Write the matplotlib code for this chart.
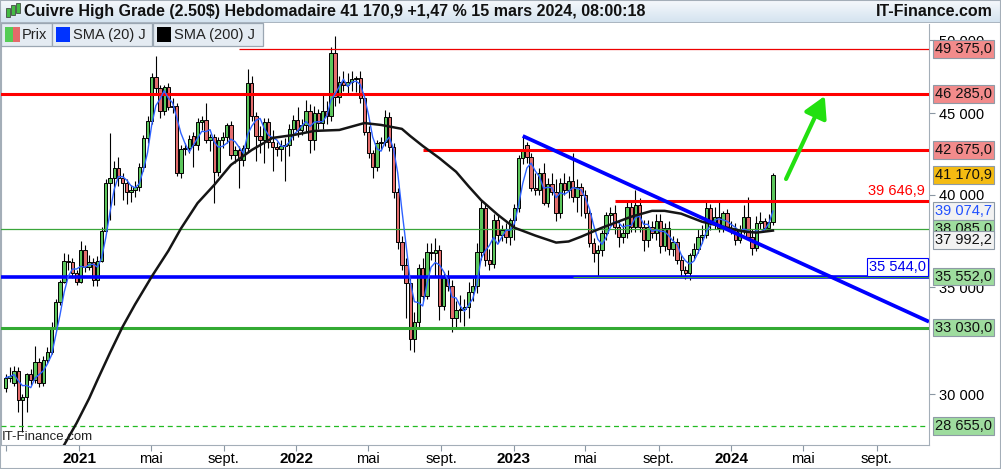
import matplotlib
matplotlib.use('Agg')
import matplotlib.pyplot as plt
import matplotlib.dates as mdates
from matplotlib.patches import Rectangle
from matplotlib.ticker import NullLocator
import numpy as np
import pandas as pd

plt.rcParams['font.family'] = ['Liberation Sans', 'DejaVu Sans']

# weekly candles, first week starting 31 Aug 2020
first_week = '2020-08-31'
opens = [30250, 30730, 30500, 31040, 29770, 29860, 30870, 30640, 31440, 30510,
         31530, 31890, 33060, 34260, 35300, 36380, 36330, 35760, 35300, 36960,
         36070, 36330, 35400, 36380, 37990, 40700, 41000, 41580, 41000, 40700,
         40180, 40290, 40470, 41640, 43430, 44500, 47420, 46670, 45150, 46740,
         45410, 45480, 41290, 42750, 42810, 43550, 42990, 44440, 44570, 43300,
         43490, 41340, 43300, 43490, 44250, 42370, 42670, 42060, 42810, 47000,
         44830, 43550, 43300, 44440, 43170, 42870, 42750, 42930, 43000, 43990,
         44570, 43930, 44250, 45150, 43300, 45020, 44370, 45150, 44830, 49090,
         46070, 47070, 46860, 47070, 47280, 47350, 46000, 43800, 42490, 41640,
         43110, 43170, 44760, 42870, 40180, 37390, 36170, 35200, 32490, 33290,
         35970, 34550, 36860, 36760, 36960, 34060, 35500, 35050, 33480, 33860,
         33910, 34010, 34750, 35050, 36860, 39260, 36430, 36200, 38590, 37770,
         38040, 37660, 38590, 39260, 42180, 43000, 42250, 40410, 40290, 41290,
         39550, 40640, 40180, 38980, 40700, 40290, 40820, 39890, 40470, 40010,
         38980, 37340, 36800, 36960, 37880, 38870, 38980, 38210, 37660, 37880,
         39320, 38210, 39430, 38210, 37500, 38210, 37880, 38540, 37180, 38150,
         37020, 37390, 36430, 35910, 35760, 36700, 37020, 37660, 37770, 39260,
         38430, 38760, 38150, 38980, 38150, 38040, 37500, 38040, 38760, 37660,
         37070, 38430, 38500, 38150, 38480]
highs = [30900, 31220, 31250, 31200, 30000, 30950, 31100, 32170, 31600, 31700,
         32100, 33300, 34400, 35400, 36800, 36750, 36500, 35900, 37400, 37200,
         36700, 36500, 36600, 38200, 40900, 43740, 42000, 42250, 41300, 40900,
         40600, 40800, 41900, 43600, 44800, 47700, 48880, 46900, 46900, 47000,
         46000, 45700, 43000, 43100, 43600, 43800, 44700, 44800, 45700, 43700,
         43700, 43500, 43800, 44400, 44500, 42900, 42900, 43000, 47970, 47500,
         45100, 44200, 44700, 44700, 43900, 43200, 43300, 43400, 44300, 44900,
         45400, 44600, 45900, 45600, 45500, 45300, 46300, 45800, 49500, 50320,
         47500, 47800, 47700, 47800, 47500, 47800, 46200, 44200, 42700, 43300,
         43500, 45200, 45100, 43100, 40400, 37700, 36500, 35500, 33800, 36200,
         36500, 37300, 37300, 37600, 37200, 35800, 35900, 35400, 34300, 34600,
         34400, 35300, 35500, 37300, 39700, 39500, 37000, 38900, 38900, 38300,
         38400, 38700, 39500, 42400, 43550, 43200, 42500, 41300, 41600, 41900,
         41000, 41300, 40900, 41000, 41300, 41100, 42500, 40900, 40700, 40300,
         39200, 37600, 37200, 38000, 39000, 39300, 39400, 38500, 38400, 39700,
         39600, 40300, 39800, 38600, 38600, 38500, 38900, 38900, 38400, 38500,
         37700, 37600, 36700, 36100, 36800, 37300, 38100, 38300, 39600, 39500,
         39300, 39700, 39100, 39200, 38500, 38400, 38300, 39400, 39900, 38100,
         38800, 39000, 38700, 38900, 41290]
lows = [30100, 30550, 30350, 29220, 28400, 29260, 30400, 30500, 30300, 30350,
        31400, 31800, 32900, 34100, 35200, 35900, 35500, 35100, 35200, 35800,
        35900, 35050, 35050, 36300, 37900, 38590, 39400, 40500, 39700, 39450,
        39600, 39900, 40200, 41400, 43100, 44300, 46300, 44700, 44900, 45200,
        45000, 41100, 41000, 42400, 42500, 41640, 42700, 43900, 43100, 42600,
        39550, 41100, 42800, 43100, 42100, 41900, 40400, 41700, 42600, 44500,
        42000, 42500, 41900, 42800, 41400, 42300, 42000, 40800, 42300, 43300,
        43500, 43600, 43800, 42500, 42700, 44000, 44000, 44300, 44500, 45500,
        45700, 46500, 46300, 46500, 46400, 45700, 43600, 42200, 41000, 41400,
        42700, 42900, 42600, 39800, 37000, 35900, 33500, 31960, 31900, 33000,
        34300, 34400, 36400, 35600, 33400, 33900, 34800, 32800, 33000, 33300,
        33100, 33500, 34300, 34700, 36400, 36100, 35900, 36000, 37300, 37400,
        37300, 37200, 37500, 39000, 41800, 41900, 40200, 40000, 40000, 39400,
        39300, 40000, 38500, 38700, 40000, 39800, 39600, 39000, 38800, 38700,
        37100, 36300, 35600, 36600, 37500, 38400, 37800, 37100, 37300, 37600,
        37900, 37900, 37900, 36900, 37100, 37600, 37500, 36800, 36900, 36700,
        36600, 36200, 35600, 35450, 35400, 36400, 36800, 37300, 37600, 38000,
        38100, 37900, 37900, 38000, 37800, 37200, 37300, 37800, 37500, 36700,
        36900, 38100, 38000, 38000, 38300]
closes = [30730, 30820, 31040, 29770, 29860, 30870, 30640, 31440, 30510, 31530,
          31890, 33060, 34260, 35300, 36380, 36330, 35760, 35300, 36960, 36070,
          36330, 35400, 36380, 37990, 40700, 41000, 41580, 41000, 40700, 40180,
          40290, 40470, 41640, 43430, 44500, 47420, 46670, 45150, 46740, 45410,
          45480, 41290, 42750, 42810, 43360, 42990, 44440, 44570, 43300, 43490,
          41340, 43300, 43490, 44250, 42370, 42670, 42060, 42810, 47000, 44830,
          43550, 43300, 44440, 43170, 42870, 42750, 42930, 43000, 43990, 44570,
          43930, 44250, 45150, 43300, 45020, 44370, 45150, 44830, 49090, 46070,
          47070, 46860, 47070, 47280, 47350, 46000, 43800, 42490, 41640, 43110,
          43170, 44760, 42870, 40180, 37390, 36170, 35200, 32490, 33290, 35970,
          34550, 36860, 36760, 36960, 34060, 35500, 35050, 33480, 33860, 33910,
          34010, 34750, 35050, 36860, 39260, 36430, 36200, 38590, 37770, 38040,
          37660, 38590, 39260, 42180, 42670, 42250, 40410, 40290, 41290, 39550,
          40640, 40180, 38980, 40700, 40290, 40820, 39890, 40470, 40010, 38980,
          37340, 36800, 36960, 37880, 38870, 38980, 38210, 37660, 37880, 39320,
          38210, 39430, 38210, 37500, 38210, 37880, 38540, 37180, 38150, 37020,
          37390, 36430, 35910, 35760, 36700, 37020, 37660, 37770, 39260, 38430,
          38760, 38150, 38980, 38150, 38040, 37500, 38040, 38760, 37660, 37070,
          38430, 38500, 38150, 38480, 41170.9]

# SMA (200) J (week number, value)
sma200_week = [10, 14, 17, 20, 22, 25, 28, 31, 35, 39, 42, 46, 50, 54, 59, 64, 69,
               74, 80, 86, 90, 95, 97, 100, 104, 108, 111, 114, 118, 122, 127, 132,
               135, 138, 143, 150, 155, 158, 162, 167, 172, 177, 180, 184]
sma200 = [27090, 27880, 28780, 29820, 30630, 31850, 33060, 34150, 35550, 36900,
          38100, 39530, 40580, 41770, 42680, 43430, 43610, 43870, 43930, 44370,
          44250, 44000, 43550, 42930, 42180, 41360, 40500, 39700, 38870, 38150,
          37720, 37340, 37400, 37660, 38150, 38760, 39090, 39090, 38930, 38480,
          38210, 37940, 37880, 37992.2]

sma20_tag = 39074.7
sma200_tag = 37992.2

# horizontal levels
res_49375 = (49375, '2021-09-27')
res_46285 = 46285
res_42675 = (42675, '2022-08-01')
res_39647 = (39646.9, '2023-06-19')
sup_38085 = 38085
sup_35552 = 35552
sup_35544 = (35544, '2023-04-10')
sup_33030 = 33030
sup_28655 = 28655

# trend line and arrow
trend_dates = ['2023-01-16', '2024-11-28']
trend_vals = [43550, 33310]
arrow_dates = ['2024-04-02', '2024-06-06']
arrow_vals = [40930, 46140]

GREEN = '#5cc65c'
RED = '#e36d6d'


def fr(v, dec=1):
    s = f"{v:,.{dec}f}"
    return s.replace(',', ' ').replace('.', ',')


W, H = 1001, 469


def fx(px):
    return px / W


def fy(py):
    return 1 - py / H


fig = plt.figure(figsize=(W / 100, H / 100), dpi=100)
fig.patch.set_facecolor('white')

ax = fig.add_axes([fx(1), fy(445), fx(929) - fx(1), fy(24) - fy(445)])
ax.set_yscale('log')

dates = pd.date_range(first_week, periods=len(closes), freq='7D')
xd = mdates.date2num(dates)
o = np.array(opens, float)
c = np.array(closes, float)
h = np.array(highs, float)
l = np.array(lows, float)
up = c >= o

ax.vlines(xd, l, h, color='black', lw=0.8, zorder=2)
body = np.maximum(np.abs(c - o), 40)
ax.bar(xd[up], body[up], bottom=o[up], width=5.6, color=GREEN, edgecolor='black',
       lw=0.7, zorder=3)
ax.bar(xd[~up], body[~up], bottom=c[~up], width=5.6, color=RED, edgecolor='black',
       lw=0.7, zorder=3)

# moving averages
sma20 = pd.Series(closes).rolling(4, min_periods=1).mean()
ax.plot(xd, sma20, color='#2f62ff', lw=1, zorder=5)
ax.plot(xd[sma200_week], sma200, color='#151515', lw=1.8, zorder=5)

# levels
def d(s):
    return mdates.date2num(pd.Timestamp(s))

x_right = d('2024-11-28')
ax.hlines(res_49375[0], d(res_49375[1]), x_right, color='#ee0000', lw=0.9, zorder=4)
ax.axhline(res_46285, color='#ff0000', lw=2.2, zorder=4)
ax.hlines(res_42675[0], d(res_42675[1]), x_right, color='#ff0000', lw=2.2, zorder=4)
ax.hlines(res_39647[0], d(res_39647[1]), x_right, color='#ff0000', lw=2.2, zorder=4)
ax.axhline(sup_38085, color='#3aa63a', lw=0.9, zorder=4)
ax.axhline(sup_35552, color='#0000ff', lw=2.6, zorder=4)
ax.hlines(sup_35544[0], d(sup_35544[1]), x_right, color='#3aa63a', lw=0.8, zorder=4)
ax.axhline(sup_33030, color='#33aa33', lw=2.2, zorder=4)
ax.axhline(sup_28655, color='#22bb22', lw=0.9, ls=(0, (4, 3)), zorder=4)

ax.plot([d(s) for s in trend_dates], trend_vals, color='#0000ff', lw=2.7,
        solid_capstyle='butt', zorder=6)
ax.annotate('', xy=(d(arrow_dates[1]), arrow_vals[1]),
            xytext=(d(arrow_dates[0]), arrow_vals[0]),
            arrowprops=dict(arrowstyle='-|>,head_length=0.8,head_width=0.45',
                            color='#22e010', lw=3, mutation_scale=16,
                            shrinkA=0, shrinkB=0), zorder=7)

# in-chart labels
ax.annotate(fr(res_39647[0]), xy=(1, res_39647[0]), xycoords=('axes fraction', 'data'),
            xytext=(-3, 2), textcoords='offset points', ha='right', va='bottom',
            fontsize=10.5, color='#ff0000', zorder=8)
ax.annotate(fr(sup_35544[0]), xy=(1, sup_35544[0]), xycoords=('axes fraction', 'data'),
            xytext=(-2, 2), textcoords='offset points', ha='right', va='bottom',
            fontsize=10.5, color='#0000ee', zorder=8,
            bbox=dict(boxstyle='square,pad=0.15', fc='white', ec='#0000ff', lw=0.8))

# axes and limits
ax.set_xlim(d('2020-08-23'), x_right)
ax.set_ylim(27880, 51190)
ax.yaxis.tick_right()
ax.set_yticks([30000, 35000, 40000, 45000, 50000])
ax.set_yticklabels([fr(v, 0) for v in [30000, 35000, 40000, 45000, 50000]])
ax.yaxis.set_minor_locator(NullLocator())
ax.tick_params(axis='y', length=4, width=0.8, color='#8a96a3', pad=3,
               labelsize=10.5)

xt = ['2020-09-01', '2021-01-01', '2021-05-01', '2021-09-01', '2022-01-01',
      '2022-05-01', '2022-09-01', '2023-01-01', '2023-05-01', '2023-09-01',
      '2024-01-01', '2024-05-01', '2024-09-01']
xl = ['', '2021', 'mai', 'sept.', '2022', 'mai', 'sept.', '2023', 'mai', 'sept.',
      '2024', 'mai', 'sept.']
ax.set_xticks([d(s) for s in xt])
ax.set_xticklabels(xl)
ax.xaxis.set_minor_locator(NullLocator())
ax.tick_params(axis='x', length=4, width=0.8, color='#8a96a3', pad=1,
               labelsize=10.5)
for t in ax.get_xticklabels():
    if t.get_text().isdigit():
        t.set_fontweight('bold')
        t.set_fontsize(11)

for s in ['left', 'right', 'bottom']:
    ax.spines[s].set_color('#a4aeb8')
ax.spines['top'].set_visible(False)

# price tags on the right
def tag(price, text, fc, tc, dy=0):
    ax.annotate(text, xy=(1, price), xycoords=('axes fraction', 'data'),
                xytext=(4.5, dy), textcoords='offset points', ha='left', va='center',
                fontsize=10.5, color=tc, zorder=10, annotation_clip=False,
                bbox=dict(boxstyle='square,pad=0.13', fc=fc, ec='#8e9aa6', lw=0.8))

tag(49375, fr(49375), '#f28b8b', '#111111')
tag(46285, fr(46285), '#f28b8b', '#111111')
tag(42675, fr(42675), '#f28b8b', '#111111')
tag(closes[-1], fr(closes[-1]), '#f4bb12', '#111111')
tag(sma20_tag, fr(sma20_tag), '#f2f2f2', '#2050ff')
tag(sup_38085, fr(sup_38085), '#9edc9e', '#111111')
tag(sma200_tag, fr(sma200_tag), '#f2f2f2', '#111111', dy=-6.5)
tag(sup_35552, fr(sup_35552), '#9edc9e', '#111111')
tag(sup_33030, fr(sup_33030), '#9edc9e', '#111111')
tag(sup_28655, fr(sup_28655), '#9edc9e', '#111111')

# header bar
hax = fig.add_axes([0, fy(23), 1, 23 / H])
grad = np.linspace(0, 1, 50).reshape(-1, 1)
hax.imshow(grad, aspect='auto', cmap=matplotlib.colors.LinearSegmentedColormap.from_list(
    'hdr', ['#f6f9fc', '#d3e2ef']), extent=[0, 1, 0, 1])
hax.set_xlim(0, 1)
hax.set_ylim(0, 1)
hax.axis('off')
hax.axhline(0, color='#a4aeb8', lw=1.2)
# small candle icon
for x0, y0, y1, col in [(0.006, 0.25, 0.65, '#44bb44'), (0.011, 0.35, 0.8, '#44bb44'),
                        (0.016, 0.45, 0.85, '#44bb44')]:
    hax.add_patch(Rectangle((x0, y0), 0.0035, y1 - y0, fc=col, ec='#333333', lw=0.5))
hax.text(24 / W, 0.5, 'Cuivre High Grade (2.50\\$) Hebdomadaire 41 170,9 +1,47 % '
         '15 mars 2024, 08:00:18', fontsize=11.5, fontweight='bold', va='center',
         ha='left', color='#111111')
hax.text(993 / W, 0.5, 'IT-Finance.com', fontsize=11.5, fontweight='bold',
         va='center', ha='right', color='#111111')

# legend row
leg = [(1, 52, 'Prix', None), (52, 152, 'SMA (20) J', '#0033ff'),
       (153, 263, 'SMA (200) J', '#000000')]
for x0, x1, txt, col in leg:
    fig.patches.append(Rectangle((fx(x0), fy(46)), fx(x1) - fx(x0), 23 / H,
                                 transform=fig.transFigure, fc='#e4ebf2',
                                 ec='#9aa6b2', lw=0.9, zorder=5))
    if col is None:
        fig.patches.append(Rectangle((fx(x0 + 4), fy(42)), 8 / W, 15 / H,
                                     transform=fig.transFigure, fc='#55cc55',
                                     ec='none', zorder=6))
        fig.patches.append(Rectangle((fx(x0 + 12), fy(42)), 7 / W, 15 / H,
                                     transform=fig.transFigure, fc='#e46a6a',
                                     ec='none', zorder=6))
    else:
        fig.patches.append(Rectangle((fx(x0 + 4), fy(42)), 14 / W, 15 / H,
                                     transform=fig.transFigure, fc=col,
                                     ec='none', zorder=6))
    fig.text(fx(x0 + 21), fy(35), txt, fontsize=10.5, va='center', ha='left',
             color='#222222', zorder=7)

fig.text(fx(2), fy(437), 'IT-Finance.com', fontsize=9.5, va='center', ha='left',
         color='#222222')

fig.patches.append(Rectangle((0, 0), 1, 1, transform=fig.transFigure, fill=False,
                             ec='#a4aeb8', lw=1.5, zorder=10))

fig.savefig('out.png', dpi=100)
